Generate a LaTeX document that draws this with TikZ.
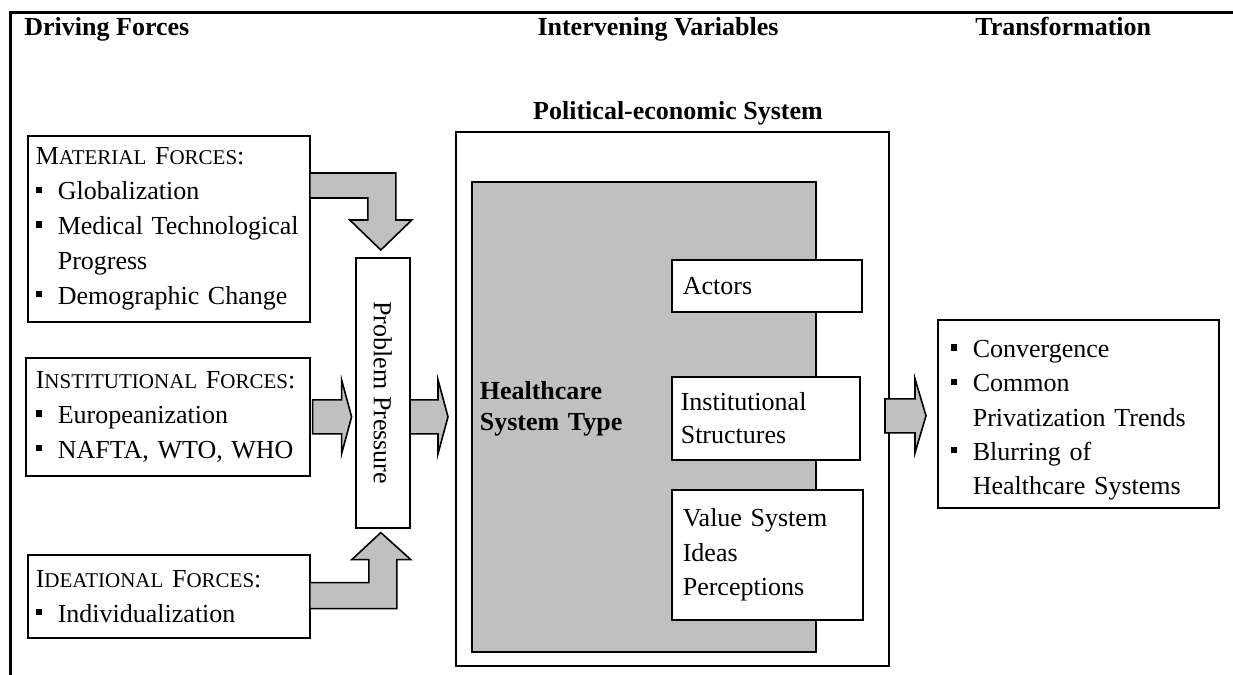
\documentclass[tikz,border=0pt]{standalone}
\usepackage{fontspec}
\usepackage{graphicx}
\setmainfont{Liberation Serif}
\usetikzlibrary{calc}

\definecolor{boxgray}{HTML}{C0C0C0}
% square bullet and faked small capitals
\newcommand{\bul}{\makebox[11pt][l]{\rule[3.4pt]{3.2pt}{3.2pt}}}
\newcommand{\smcap}[2]{#1{\fontsize{10.5}{12}\selectfont #2}}

\begin{document}
\begin{tikzpicture}[x=0.5pt, y=-0.5pt,
    box/.style={draw, line width=0.8pt, fill=white, anchor=north west, align=left,
      inner ysep=0pt, font=\fontsize{13}{17.4}\selectfont},
    blockarrow/.style={draw, line width=0.8pt, fill=boxgray, line join=miter},
    heading/.style={font=\bfseries\fontsize{13}{15}\selectfont, anchor=base west, inner sep=0pt}]
  \useasboundingbox (0,0) rectangle (1233,675);

  % frame and column headings
  \draw[line width=1.5pt] (1233,12) -- (10.5,12) -- (10.5,675);
  \node[heading] (drv) at (24,35) {Driving Forces};
  \node[heading, anchor=base] (ivv) at (658,35) {Intervening Variables};
  \node[heading] (trf) at (975,35) {Transformation};

  % driving forces
  \node[box, inner xsep=4pt, minimum width=141pt, minimum height=93pt, text width=133pt] (mat) at (27,135)
    {\smcap{M}{ATERIAL} \smcap{F}{ORCES}:\\ \bul Globalization\\ \bul Medical Technological\\
     \hspace*{11pt}Progress\\ \bul Demographic Change};
  \node[box, inner xsep=5pt, minimum width=142pt, minimum height=59pt, text width=132pt] (inst) at (25,357)
    {\smcap{I}{NSTITUTIONAL} \smcap{F}{ORCES}:\\ \bul Europeanization\\ \bul NAFTA, WTO, WHO};
  \node[box, inner xsep=4pt, minimum width=141pt, minimum height=41.5pt, text width=133pt] (ideas) at (27,554)
    {\smcap{I}{DEATIONAL} \smcap{F}{ORCES}:\\ \bul Individualization};
  \node[box, inner sep=0pt, minimum width=27pt, minimum height=135pt] (pp) at (355,257)
    {\rotatebox{-90}{Problem Pressure}};

  % intervening variables
  \node[heading, anchor=base] (pestitle) at (678,119) {Political-economic System};
  \node[box, minimum width=216.5pt, minimum height=267pt] (pes) at (455,131) {};
  \node[box, fill=boxgray, inner xsep=4pt, minimum width=172pt, minimum height=235pt, text width=164pt,
    font=\bfseries\fontsize{13}{15.5}\selectfont] (hcs) at (471,181) {Healthcare\\System Type\\[-4.5pt]\mbox{}};
  \node[box, inner xsep=5.5pt, minimum width=95pt, minimum height=26pt, text width=84pt] (actors) at (671,259)
    {Actors};
  \node[box, inner xsep=4.5pt, minimum width=94pt, minimum height=41.5pt, text width=85pt,
    font=\fontsize{13}{16.5}\selectfont] (struct) at (671,376) {Institutional\\Structures};
  \node[box, inner xsep=5.5pt, minimum width=95.5pt, minimum height=65pt, text width=84.5pt] (values) at (671,489)
    {Value System\\Ideas\\Perceptions};

  % transformation
  \node[box, inner xsep=6.5pt, minimum width=140.5pt, minimum height=94pt, text width=127.5pt,
    font=\fontsize{13}{17.1}\selectfont] (trans) at (937,319)
    {\mbox{}\\[-2pt]\bul Convergence\\ \bul Common\\ \hspace*{11pt}Privatization Trends\\ \bul Blurring of\\
     \hspace*{11pt}Healthcare Systems};

  % block arrows
  \draw[blockarrow] ($(pp.north)+(-2,-7)$) -- ++(31,-30) -- ++(-16,0) -- ++(0,-47) -- ++(-86,0)
    -- ++(0,25) -- ++(58,0) -- ++(0,22) -- ++(-18,0) -- cycle;
  \draw[blockarrow] ($(pp.south)+(-2,4)$) -- ++(30,27) -- ++(-14,0) -- ++(0,49) -- ++(-87,0)
    -- ++(0,-26) -- ++(59,0) -- ++(0,-23) -- ++(-17,0) -- cycle;
  \draw[blockarrow] ($(inst.east)+(41,0)$) -- ++(-10,-37) -- ++(0,20) -- ++(-29,0) -- ++(0,34)
    -- ++(29,0) -- ++(0,20) -- cycle;
  \draw[blockarrow] ($(pes.west)+(-7,18)$) -- ++(-10,-37) -- ++(0,20) -- ++(-28,0) -- ++(0,34)
    -- ++(28,0) -- ++(0,20) -- cycle;
  \draw[blockarrow] ($(trans.west)+(-11,2)$) -- ++(-11,-37) -- ++(0,20) -- ++(-30,0) -- ++(0,34)
    -- ++(30,0) -- ++(0,20) -- cycle;
\end{tikzpicture}
\end{document}
